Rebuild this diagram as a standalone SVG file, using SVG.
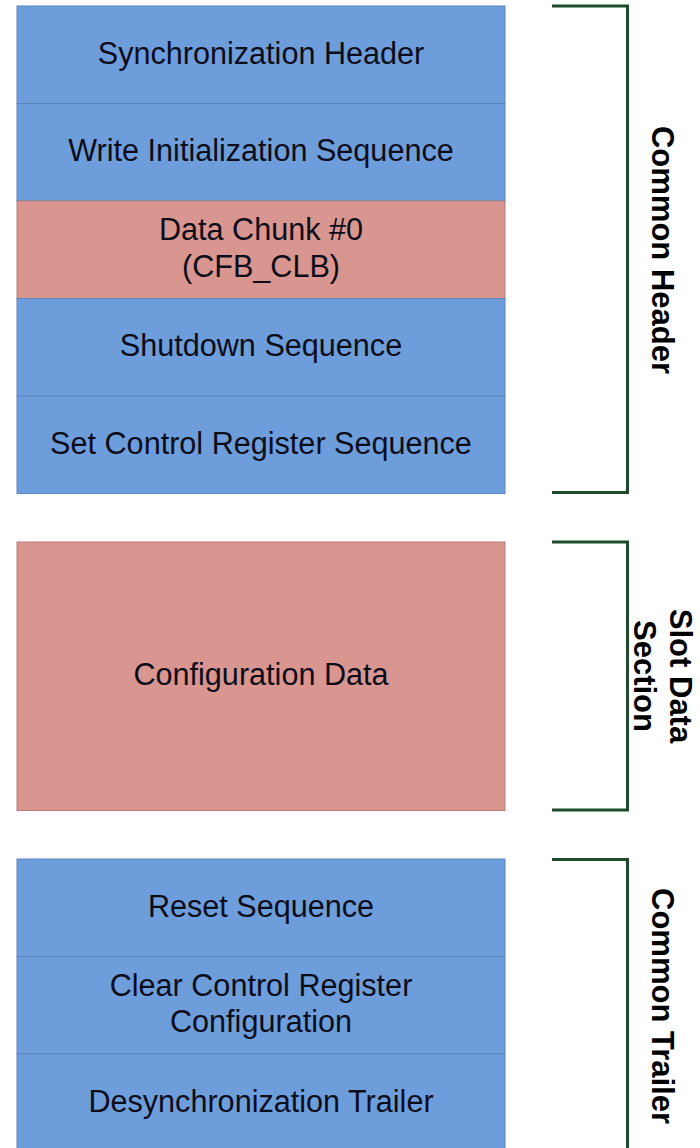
<svg xmlns="http://www.w3.org/2000/svg" width="700" height="1148" viewBox="0 0 700 1148">
  <style>
    .blue { fill: #6d9edb; stroke: #5a86bd; stroke-width: 1; }
    .red { fill: #d9958f; stroke: #b97d78; stroke-width: 1; }
    .lbl { font-family: "Liberation Sans", Arial, sans-serif; font-size: 30.6px; fill: #0d0d1a; text-anchor: middle; }
    .side { font-family: "Liberation Sans", Arial, sans-serif; font-size: 31px; font-weight: bold; fill: #000; text-anchor: middle; }
    .brace { fill: none; stroke: #1f4a2c; stroke-width: 3; }
  </style>
  <rect width="700" height="1148" fill="#ffffff"/>

  <!-- Common header block -->
  <g id="sync-header">
    <rect class="blue" x="17" y="6" width="488" height="97.5"/>
    <text class="lbl" x="261" y="63.5">Synchronization Header</text>
  </g>
  <g id="write-init">
    <rect class="blue" x="17" y="103.5" width="488" height="97.5"/>
    <text class="lbl" x="261" y="161">Write Initialization Sequence</text>
  </g>
  <g id="data-chunk-0">
    <rect class="red" x="17" y="201" width="488" height="97.5"/>
    <text class="lbl" x="261" y="239.5">Data Chunk #0</text>
    <text class="lbl" x="261" y="277">(CFB_CLB)</text>
  </g>
  <g id="shutdown">
    <rect class="blue" x="17" y="298.5" width="488" height="97.5"/>
    <text class="lbl" x="261" y="356">Shutdown Sequence</text>
  </g>
  <g id="set-ctrl-reg">
    <rect class="blue" x="17" y="396" width="488" height="97.5"/>
    <text class="lbl" x="261" y="453.5">Set Control Register Sequence</text>
  </g>

  <!-- Slot data block -->
  <g id="config-data">
    <rect class="red" x="17" y="542" width="488" height="268.5"/>
    <text class="lbl" x="261" y="685">Configuration Data</text>
  </g>

  <!-- Common trailer block -->
  <g id="reset-seq">
    <rect class="blue" x="17" y="859" width="488" height="97.5"/>
    <text class="lbl" x="261" y="916.5">Reset Sequence</text>
  </g>
  <g id="clear-ctrl-reg">
    <rect class="blue" x="17" y="956.5" width="488" height="97.5"/>
    <text class="lbl" x="261" y="995.5">Clear Control Register</text>
    <text class="lbl" x="261" y="1032">Configuration</text>
  </g>
  <g id="desync-trailer">
    <rect class="blue" x="17" y="1054" width="488" height="97.5"/>
    <text class="lbl" x="261" y="1111.5">Desynchronization Trailer</text>
  </g>

  <!-- Section brackets -->
  <g id="brackets">
    <path class="brace" d="M552 6 H627.5 V492.5 H552"/>
    <path class="brace" d="M552 542 H627.5 V810 H552"/>
    <path class="brace" d="M552 859.5 H627.5 V1150"/>
  </g>

  <!-- Section labels -->
  <g id="label-common-header">
    <text class="side" transform="translate(652 250) rotate(90)">Common Header</text>
  </g>
  <g id="label-slot-data">
    <text class="side" transform="translate(670 676) rotate(90)">Slot Data</text>
    <text class="side" transform="translate(634 676) rotate(90)">Section</text>
  </g>
  <g id="label-common-trailer">
    <text class="side" transform="translate(652 1006) rotate(90)">Common Trailer</text>
  </g>
</svg>
